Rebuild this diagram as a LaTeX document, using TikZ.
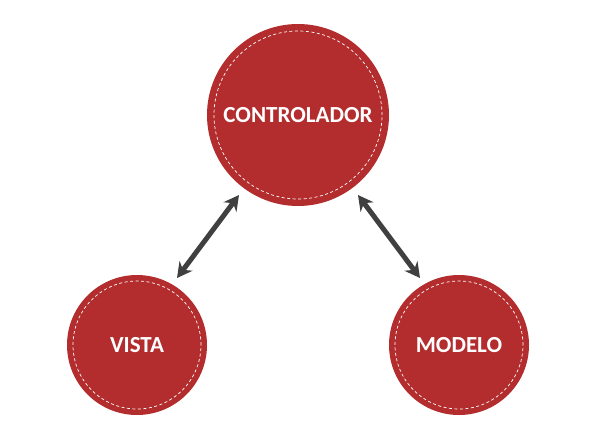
\documentclass[tikz,border=0pt]{standalone}
\usepackage{fontspec}
\setmainfont{Carlito}
\usetikzlibrary{arrows.meta}
\definecolor{mvcred}{HTML}{B32D2E}
\definecolor{arrowgray}{HTML}{404040}
\tikzset{
  bubble/.style={circle, fill=mvcred, draw=none, minimum size=#1, inner sep=0pt,
    text=white, font=\bfseries\fontsize{23}{26}\selectfont},
  stitch/.style={circle, draw=white, dashed, dash pattern=on 3pt off 2.5pt, line width=0.7pt, minimum size=#1, inner sep=0pt},
  link/.style={draw=arrowgray, line width=5pt, {Stealth[length=15pt,width=16pt]}-{Stealth[length=15pt,width=16pt]}}
}
\begin{document}
\begin{tikzpicture}[x=1pt,y=-1pt]
\useasboundingbox (0,0) rectangle (609,434);
\node[bubble=182pt] (ctrl) at (298,115) {CONTROLADOR};
\node[stitch=168pt] (ctrls) at (298,115) {};
\node[bubble=140pt] (vista) at (137,345) {VISTA};
\node[stitch=128pt] (vistas) at (137,345) {};
\node[bubble=140pt] (modelo) at (459,345) {MODELO};
\node[stitch=128pt] (modelos) at (459,345) {};
\coordinate (a1) at (239,195);
\coordinate (a2) at (177,278);
\coordinate (b1) at (358,195);
\coordinate (b2) at (420,278);
\draw[link] (a2) -- (a1);
\draw[link] (b1) -- (b2);
\end{tikzpicture}
\end{document}
